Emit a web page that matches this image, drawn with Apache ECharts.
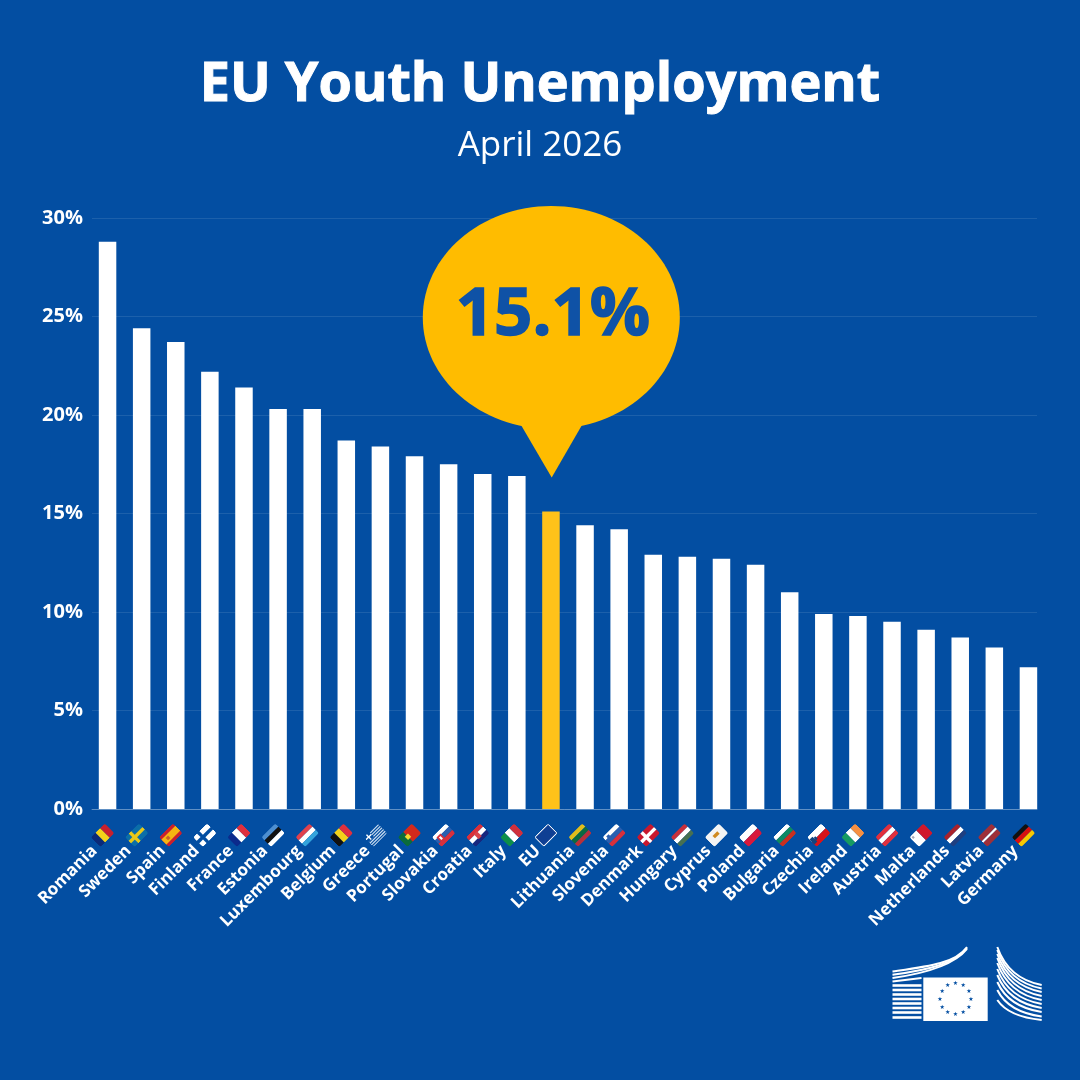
<!DOCTYPE html>
<html><head><meta charset="utf-8">
<style>html,body{margin:0;padding:0;background:#034ea2}#c{width:1080px;height:1080px}</style>
<script src="https://cdn.jsdelivr.net/npm/echarts@6/dist/echarts.min.js"></script>
</head><body><div id="c"></div>
<script>
const categories=['Romania','Sweden','Spain','Finland','France','Estonia','Luxembourg','Belgium','Greece','Portugal','Slovakia','Croatia','Italy','EU','Lithuania','Slovenia','Denmark','Hungary','Cyprus','Poland','Bulgaria','Czechia','Ireland','Austria','Malta','Netherlands','Latvia','Germany'];
const values=[28.8,24.4,23.7,22.2,21.4,20.3,20.3,18.7,18.4,17.9,17.5,17.0,16.9,15.1,14.4,14.2,12.9,12.8,12.7,12.4,11.0,9.9,9.8,9.5,9.1,8.7,8.2,7.2];
const highlight='EU';
const titleText='EU Youth Unemployment';
const subtitleText='April 2026';
const calloutText='15.1%';

const BG='#034ea2',GOLD='#ffbc00',FONT='"Open Sans","Noto Sans",sans-serif';

// flag art: 18x12 viewBox rects
const V=(a,b,c)=>[[0,0,6,12,a],[6,0,6,12,b],[12,0,6,12,c]];
const H=(a,b,c)=>[[0,0,18,4,a],[0,4,18,4,b],[0,8,18,4,c]];
const cross=(bg,c)=>[[0,0,18,12,bg],[5,0,3,12,c],[0,4.5,18,3,c]];
const flagArt={
Romania:V('#0b2a78','#f3d21a','#c8202e'),
Sweden:[[0,0,18,12,'#0b6ea8'],[5,0,3,12,'#e9c818'],[0,4.5,18,3,'#e9c818']],
Spain:[[0,0,18,12,'#c8202e'],[0,3,18,6,'#f6b511'],[4,4.5,3,3,'#c8622a']],
Finland:[[0,0,5,4.5,'#ffffff'],[8,0,10,4.5,'#ffffff'],[0,7.5,5,4.5,'#ffffff'],[8,7.5,10,4.5,'#ffffff']],
France:V('#0b2a8c','#ffffff','#e0303e'),
Estonia:H('#4e8fd0','#111111','#ffffff'),
Luxembourg:H('#e0414d','#ffffff','#33a3dc'),
Belgium:V('#111111','#f3d21a','#e0303e'),
Greece:[[0,1,18,1,'#cfe0f2'],[0,3,18,1,'#cfe0f2'],[0,5,18,1,'#cfe0f2'],[0,7,18,1,'#cfe0f2'],[0,9,18,1,'#cfe0f2'],[0,11,18,1,'#cfe0f2'],[0,0,7,6,'#034ea2'],[3,0,1.2,6,'#ffffff'],[0,2.4,7,1.2,'#ffffff']],
Portugal:[[0,0,7,12,'#0b6b3a'],[7,0,11,12,'#d42a1c'],[5,4,4,4,'#f4dc30']],
Slovakia:[[0,0,18,4,'#ffffff'],[0,4,18,4,'#2a5fb0'],[0,8,18,4,'#d8303c'],[3,3,5,6,'#d8303c'],[4.5,4.5,2,3,'#ffffff']],
Croatia:[[0,0,18,4,'#d8303c'],[0,4,18,4,'#ffffff'],[0,8,18,4,'#17277e'],[7,3,4,6,'#d8434c']],
Italy:V('#0d8f4a','#ffffff','#d0303c'),
EU:[[0,0,18,12,'#ffffff'],[1,1,16,10,'#0f3f93']],
Lithuania:H('#e0bd1c','#0b6a40','#b8303a'),
Slovenia:[[0,0,18,4,'#ffffff'],[0,4,18,4,'#2a5fb0'],[0,8,18,4,'#d8303c'],[3,2,3,4,'#2a5fb0']],
Denmark:cross('#c8182e','#ffffff'),
Hungary:H('#c8303c','#ffffff','#477050'),
Cyprus:[[0,0,18,12,'#f4f4f4'],[6,4,6,3,'#d08a20']],
Poland:[[0,0,18,6,'#ffffff'],[0,6,18,6,'#d8183c']],
Bulgaria:H('#ffffff','#0d8a62','#c83020'),
Czechia:[[0,0,18,6,'#ffffff'],[0,6,18,6,'#d7141a'],[0,3,4,6,'#11457e'],[4,4.5,2,3,'#11457e']],
Ireland:V('#169b62','#ffffff','#f79042'),
Austria:H('#e0303e','#ffffff','#e0303e'),
Malta:[[0,0,9,12,'#ffffff'],[9,0,9,12,'#d0182c'],[1.5,1.5,2,2,'#a9a9b8']],
Netherlands:H('#a8222c','#ffffff','#1f3f80'),
Latvia:[[0,0,18,5,'#9e3039'],[0,5,18,2,'#ffffff'],[0,7,18,5,'#9e3039']],
Germany:H('#111111','#d80f0f','#f8c800')
};
function flagUri(name){
  const r=flagArt[name].map(a=>`<rect x="${a[0]}" y="${a[1]}" width="${a[2]}" height="${a[3]}" fill="${a[4]}"/>`).join('');
  const svg=`<svg xmlns="http://www.w3.org/2000/svg" width="80" height="56" viewBox="0 0 18 12" preserveAspectRatio="none"><defs><clipPath id="r"><rect width="18" height="12" rx="2.6"/></clipPath></defs><g clip-path="url(#r)">${r}</g></svg>`;
  return 'data:image/svg+xml;charset=utf-8,'+encodeURIComponent(svg);
}
const rich={t:{color:'#fff',fontFamily:FONT,fontWeight:700,fontSize:17,lineHeight:21}};
categories.forEach((n,i)=>{rich['f'+i]={width:20,height:14,verticalAlign:'top',backgroundColor:{image:flagUri(n)}};});
rich.sp={width:5,height:1};

const logo=[];
function curve(x1,y1,cx1,cy1,cx2,cy2,x2,y2,w){logo.push({type:'bezierCurve',z:5,shape:{x1,y1,cpx1:cx1,cpy1:cy1,cpx2:cx2,cpy2:cy2,x2,y2},style:{stroke:'#fff',lineWidth:w,fill:null}});}
[971.5,974.8,978].forEach((y,i)=>curve(892.5,y,928,y-5,955,y-8-i*3,967,947+i,2));
curve(892.5,981.5,905,980,915,978.8,921.5,978,2);
[985.5,990,994.5,999,1003.5,1008,1012.5,1017.5].forEach(y=>logo.push({type:'rect',z:5,shape:{x:892.5,y:y-1.3,width:29,height:2.6},style:{fill:'#fff'}}));
[[947,985],[950,988.5],[954,992],[958,996],[963,1000],[969,1004],[975,1008],[982,1012],[990,1016.5],[1000,1020]].forEach(a=>curve(997.3,a[0],1004,a[0]+(a[1]-a[0])*0.5,1018,a[1]-(a[1]-a[0])*0.12,1041.7,a[1],2));
logo.push({type:'rect',z:5,shape:{x:923.3,y:977.5,width:64.4,height:43.5},style:{fill:'#fff'}});
for(let i=0;i<12;i++){const a=i*Math.PI/6;logo.push({type:'text',z:6,x:955.5+15.5*Math.sin(a),y:999.3-15.5*Math.cos(a),style:{text:'★',fill:'#034ea2',font:'6px "DejaVu Sans"',textAlign:'center',textVerticalAlign:'middle'}});}

const chart=echarts.init(document.getElementById('c'),null,{renderer:'canvas'});
chart.setOption({
  backgroundColor:BG,animation:false,
  title:[
   {text:titleText,left:'center',top:58.5,padding:0,textStyle:{color:'#fff',fontFamily:FONT,fontWeight:700,fontSize:54,textBorderColor:'#fff',textBorderWidth:1}},
   {text:subtitleText,left:'center',top:129,padding:0,textStyle:{color:'#fff',fontFamily:FONT,fontWeight:400,fontSize:35}}
  ],
  grid:[
   {left:90.5,right:34.5,top:218,height:591},
   {left:92,right:43,top:218,height:591}
  ],
  xAxis:[
   {type:'category',gridIndex:0,data:categories,axisTick:{show:false},axisLine:{show:false},
    axisLabel:{interval:0,rotate:45,margin:17,padding:[13,0,0,0],
      formatter:(v,i)=>`{t|${v}}{sp|}{f${i}|}`,rich}},
   {type:'category',gridIndex:1,data:[''],axisLabel:{show:false},axisTick:{show:false},axisLine:{show:true,lineStyle:{color:'rgba(255,255,255,0.3)',width:1}}}
  ],
  yAxis:[
   {type:'value',gridIndex:0,min:0,max:30,interval:5,show:false,splitLine:{show:false}},
   {type:'value',gridIndex:1,min:0,max:30,interval:5,axisLine:{show:false},axisTick:{show:false},
    axisLabel:{color:'#fff',fontFamily:FONT,fontWeight:700,fontSize:20,margin:9,formatter:v=>v+'%'},
    splitLine:{lineStyle:{color:'rgba(255,255,255,0.1)',width:1}}}
  ],
  series:[{type:'bar',xAxisIndex:0,yAxisIndex:0,barWidth:17.5,z:3,
    data:values.map((v,i)=>({value:v,itemStyle:{color:categories[i]===highlight?'#ffc21a':'#fff'}}))}],
  graphic:[
   {type:'ellipse',z:10,shape:{cx:551.3,cy:317.5,rx:128.5,ry:111.5},style:{fill:GOLD}},
   {type:'polygon',z:10,shape:{points:[[521,425],[582,425],[551.7,477.5]]},style:{fill:GOLD}},
   {type:'text',z:11,x:553,y:316,style:{text:calloutText,fill:'#0f52a6',font:'700 67px '+FONT,textAlign:'center',textVerticalAlign:'middle',stroke:'#0f52a6',lineWidth:1.5}},
   ...logo
  ]
});
</script></body></html>
